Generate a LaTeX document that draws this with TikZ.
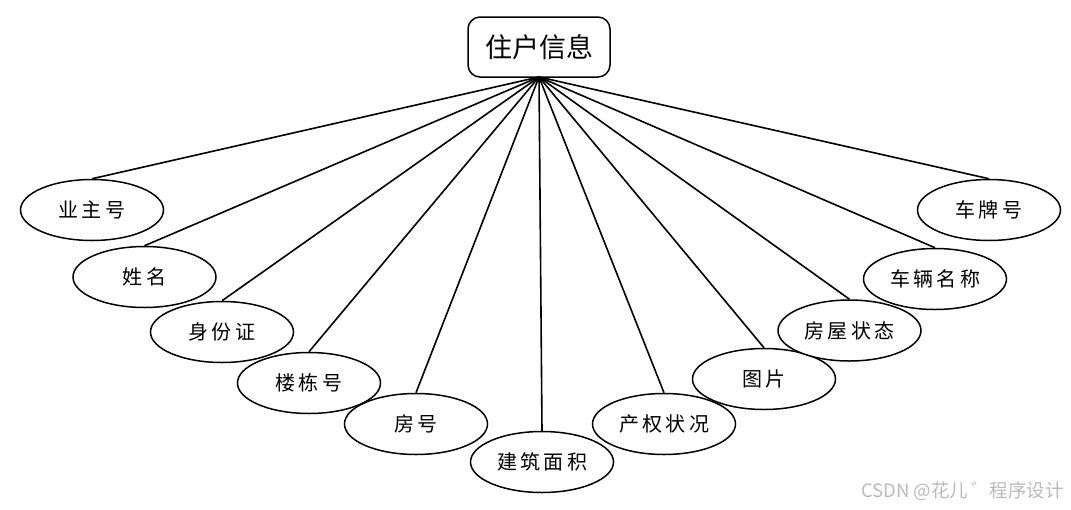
\documentclass[tikz,border=0pt]{standalone}
\usepackage{fontspec}
\setmainfont{Noto Sans CJK SC}
\newfontfamily\wmfont{Noto Sans CJK SC}
\usetikzlibrary{shapes.geometric}
\tikzset{
  attr/.style={ellipse, draw=black, line width=1.5pt, fill=white, minimum width=143pt, minimum height=61pt, inner sep=0pt, font=\fontsize{20}{24}\selectfont},
  entity/.style={rectangle, rounded corners=12pt, draw=black, line width=1.5pt, fill=white, minimum width=142pt, minimum height=60pt, inner sep=0pt, font=\fontsize{27}{32}\selectfont},
  link/.style={line width=1.6pt, draw=black},
  wm/.style={text=black!27, font=\wmfont\fontsize{18.5}{21}\selectfont, inner sep=0pt, anchor=east}
}
\begin{document}
\begin{tikzpicture}[x=1pt,y=-1pt]
\useasboundingbox (0,0) rectangle (1071,509);
\node[entity] (ent) at (539,47) {住户信息};
\node[attr] (a1) at (92,210) {业\,主\,号};
\node[attr] (a2) at (144.5,277) {姓\,名};
\node[attr] (a3) at (222,332) {身\,份\,证};
\node[attr] (a4) at (309,383) {楼\,栋\,号};
\node[attr] (a5) at (416,424) {房\,号};
\node[attr] (a6) at (542,462) {建\,筑\,面\,积};
\node[attr] (a7) at (664,424) {产\,权\,状\,况};
\node[attr] (a8) at (764,379) {图\,片};
\node[attr] (a9) at (849.5,330.5) {房\,屋\,状\,态};
\node[attr] (a10) at (935,279) {车\,辆\,名\,称};
\node[attr] (a11) at (989,210) {车\,牌\,号};
\coordinate (hub) at (539,77);
\foreach \i in {1,...,11} { \draw[link] (hub) -- (a\i.north); }
\node[wm] (wmark) at (1064,491) {CSDN @花儿\,゛程序设计};
\end{tikzpicture}
\end{document}
